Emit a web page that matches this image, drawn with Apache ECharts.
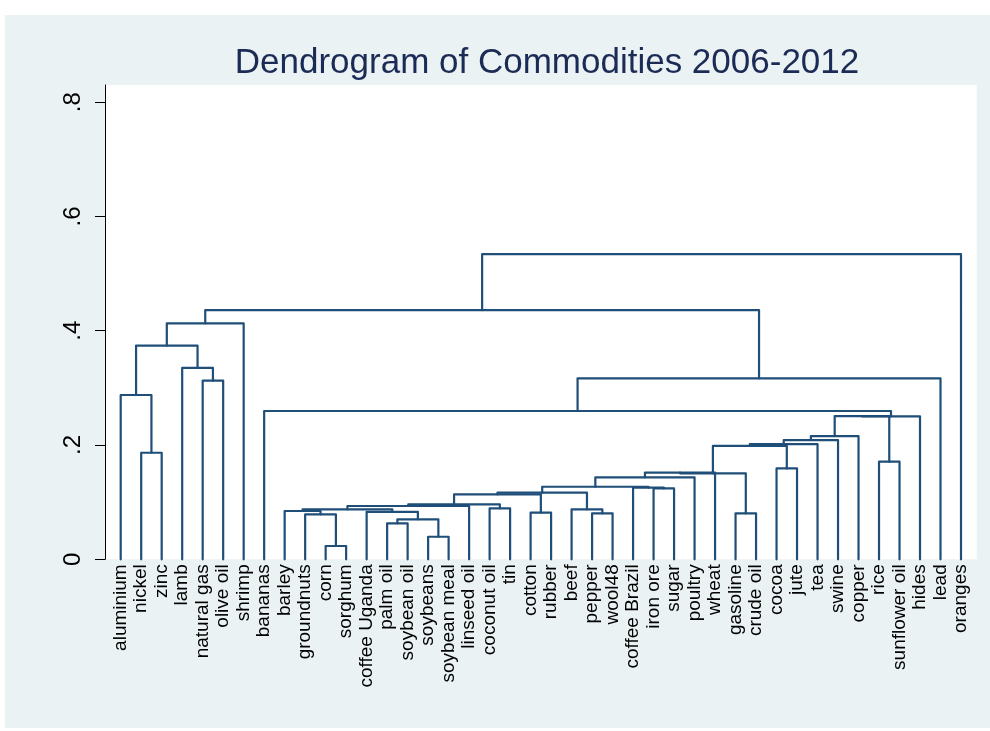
<!DOCTYPE html>
<html><head><meta charset="utf-8">
<script src="https://cdn.jsdelivr.net/npm/echarts@6/dist/echarts.min.js"></script>
<style>
html,body{margin:0;padding:0;background:#fff}
#bg{position:absolute;left:5px;top:15px;width:985px;height:713px;background:#eaf2f3}
#c{position:absolute;left:0;top:0;width:990px;height:731px}
</style>
</head><body><div id="bg"></div><div id="c"></div>
<script>
// Leaf order (left to right)
const leaves = ["aluminium","nickel","zinc","lamb","natural gas","olive oil","shrimp","bananas","barley","groundnuts","corn","sorghum","coffee Uganda","palm oil","soybean oil","soybeans","soybean meal","linseed oil","coconut oil","tin","cotton","rubber","beef","pepper","wool48","coffee Brazil","iron ore","sugar","poultry","wheat","gasoline","crude oil","cocoa","jute","tea","swine","copper","rice","sunflower oil","hides","lead","oranges"];
// Merge steps: children are leaf names or indices of earlier merges
const mergeLeft  = ["nickel","aluminium","natural gas","lamb",1,4,"corn","groundnuts","barley","palm oil","soybeans",9,"coffee Uganda",8,13,"coconut oil",14,"cotton",16,"pepper","beef",18,"iron ore","coffee Brazil",21,24,25,"gasoline",26,"cocoa",28,30,31,32,"rice",33,35,"bananas",37,5,39];
const mergeRight = ["zinc",0,"olive oil",2,3,"shrimp","sorghum",6,7,"soybean oil","soybean meal",10,11,12,"linseed oil","tin",15,"rubber",17,"wool48",19,20,"sugar",22,23,"poultry","wheat","crude oil",27,"jute",29,"tea","swine","copper","sunflower oil",34,"hides",36,"lead",38,"oranges"];
const mergeHeight = [0.1865,0.2875,0.3125,0.335,0.374,0.413,0.0233,0.0787,0.0845,0.063,0.0395,0.070,0.0830,0.0875,0.0933,0.0892,0.0962,0.0816,0.1137,0.0805,0.0875,0.1166,0.124,0.1255,0.127,0.1435,0.1516,0.0805,0.1505,0.159,0.1985,0.2017,0.2087,0.2157,0.1708,0.2507,0.2500,0.2595,0.3167,0.436,0.534];
// Y-axis tick labels
const yTickLabels = {"0":"0","0.2":".2","0.4":".4","0.6":".6","0.8":".8"};

const nodeX = [], nodeH = [];
function pos(c){
  if (typeof c === 'string') return [leaves.indexOf(c), 0];
  return [nodeX[c], nodeH[c]];
}
const segData = [];
for (let k = 0; k < mergeHeight.length; k++){
  const a = pos(mergeLeft[k]), b = pos(mergeRight[k]);
  nodeX[k] = (a[0] + b[0]) / 2; nodeH[k] = mergeHeight[k];
  segData.push([a[0], a[1], b[0], b[1], mergeHeight[k]]);
}
const leafIdx = leaves.map((_, i) => i);
const lineColor = '#1f4e79';

const chart = echarts.init(document.getElementById('c'), null, {renderer:'canvas'});
chart.setOption({
  animation:false,
  backgroundColor:'transparent',
  title:{text:'Dendrogram of Commodities 2006-2012', left:542, top:41, textAlign:'center',
    textStyle:{fontFamily:'Liberation Sans, Arial, sans-serif', fontSize:35, fontWeight:'normal', color:'#1c2b55'}},
  grid:{left:105, right:13.3, top:85, bottom:171.7, show:true, backgroundColor:'#ffffff', borderWidth:0, containLabel:false},
  xAxis:{type:'value', min:-0.766, max:41.766,
    axisLine:{show:false, onZero:false}, axisTick:{show:false}, splitLine:{show:false},
    axisLabel:{customValues:leafIdx, rotate:90, margin:5, fontSize:19, color:'#000',
      fontFamily:'Liberation Sans, Arial, sans-serif',
      formatter:v => leaves[Math.round(v)]}},
  yAxis:{type:'value', min:0, max:0.83, interval:0.2,
    axisLine:{show:true, onZero:false, lineStyle:{color:'#000', width:1}},
    axisTick:{show:true, length:10, lineStyle:{color:'#000', width:1}},
    splitLine:{show:false},
    axisLabel:{rotate:90, margin:20, fontSize:24, color:'#000', showMaxLabel:false,
      fontFamily:'Liberation Sans, Arial, sans-serif',
      formatter:v => yTickLabels[String(Math.round(v*10)/10)] ?? ''}},
  series:[{
    type:'custom', coordinateSystem:'cartesian2d', clip:false,
    encode:{x:[0,2], y:[1,3,4]},
    data:segData,
    renderItem:function(params, api){
      const p1 = api.coord([api.value(0), api.value(1)]);
      const p2 = api.coord([api.value(0), api.value(4)]);
      const p3 = api.coord([api.value(2), api.value(4)]);
      const p4 = api.coord([api.value(2), api.value(3)]);
      return {type:'polyline', shape:{points:[p1,p2,p3,p4]},
        style:{stroke:lineColor, lineWidth:2.2, fill:null, lineJoin:'round', lineCap:'round'}};
    }
  }]
});
</script></body></html>
